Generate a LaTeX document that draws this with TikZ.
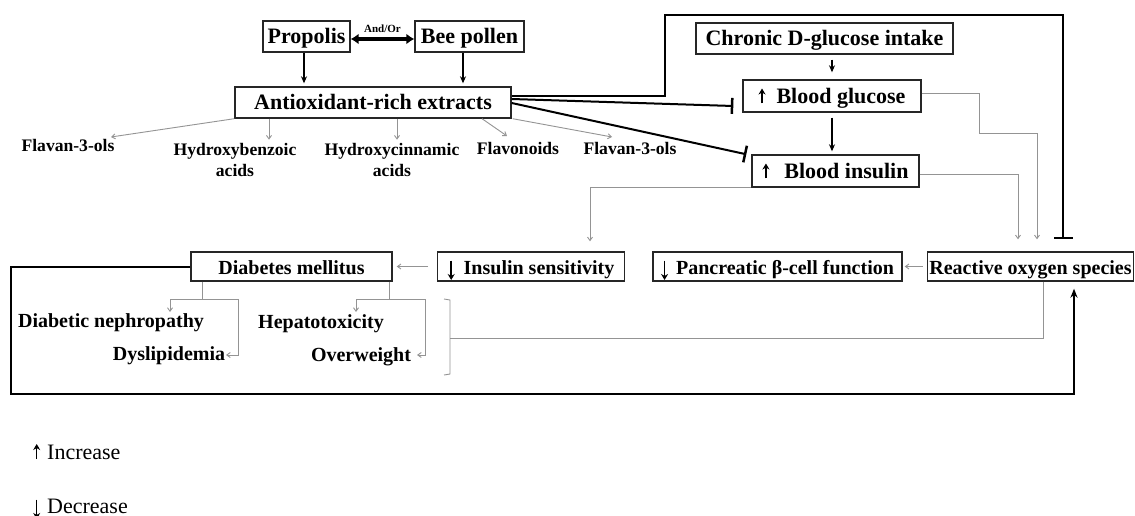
\documentclass[tikz,border=0pt]{standalone}
\usepackage{fontspec}
\setmainfont{Liberation Serif}
\usetikzlibrary{arrows.meta,calc}
\newcommand\UpA[1][1.8pt]{\tikz[baseline=0pt,x=1pt,y=1pt]\draw[line width=#1,-{Stealth[length=6pt,width=7pt]}] (0,0) -- (0,15);}
\newcommand\DnA[1][1.8pt]{\tikz[baseline=0pt,x=1pt,y=1pt]\draw[line width=#1,-{Stealth[length=6pt,width=7pt]}] (0,13.5) -- (0,-6);}
\begin{document}
\begin{tikzpicture}[x=1pt,y=-1pt,
  box/.style={draw=black!85,line width=1.4pt,inner sep=0pt,text height=17pt,text depth=2pt,minimum height=31pt,font=\bfseries\fontsize{22}{24}\selectfont},
  lowbox/.style={box,minimum height=29pt,font=\bfseries\fontsize{20}{22}\selectfont},
  sub/.style={inner sep=0pt,font=\bfseries\fontsize{17.6}{21}\selectfont,align=center},
  comp/.style={inner sep=0pt,font=\bfseries\fontsize{20}{22}\selectfont,anchor=base},
  blk/.style={line width=1.3pt,-{Stealth[length=7pt,width=6pt]}},
  thk/.style={line width=2pt},
  gry/.style={draw=black!42,line width=0.9pt},
  garr/.style={gry,-{Straight Barb[length=3.5pt,width=5pt]}},
  inh/.style={thk,-{Bar[width=#1,line width=2.5pt]}},
  inh/.default=18pt,
  leg/.style={inner sep=0pt,anchor=base west,font=\fontsize{22}{24}\selectfont},
]
\fill[white] (0,0) rectangle (1135,516);
\useasboundingbox (0,0) rectangle (1135,516);

% top boxes
\node[box,minimum width=87pt] (prop) at (306.5,36.5) {Propolis};
\node[box,minimum width=109pt] (bee) at (469.5,36.5) {Bee pollen};
\node[box,minimum width=276pt] (anti) at (373,102.5) {Antioxidant-rich extracts};
\node[box,minimum width=257pt] (chron) at (824.5,38.5) {Chronic D-glucose intake};
\node[box,minimum width=178pt,minimum height=32pt] (glu) at (832,96) {\UpA\hspace{11pt}Blood glucose};
\node[box,minimum width=167pt,minimum height=32pt] (ins) at (835.5,171) {\UpA\hspace{15pt}Blood insulin};

% bottom boxes
\node[lowbox,minimum width=201pt] (dm) at (291.5,266.5) {Diabetes mellitus};
\node[lowbox,minimum width=187.5pt] (isens) at (531,266.5) {\DnA\hspace{9pt}Insulin sensitivity};
\node[lowbox,minimum width=249pt] (panc) at (777.5,266.5) {\DnA\hspace{8pt}Pancreatic β-cell function};
\node[lowbox,minimum width=206pt] (ros) at (1030.5,266.5) {Reactive oxygen species};

% compound labels
\node[sub,anchor=base] (fl1) at (68,152) {Flavan-3-ols};
\node[sub] (hb) at (235,159.5) {Hydroxybenzoic\\acids};
\node[sub] (hc) at (392,159.5) {Hydroxycinnamic\\acids};
\node[sub,anchor=base] (fv) at (518,154) {Flavonoids};
\node[sub,anchor=base] (fl2) at (630,154) {Flavan-3-ols};

% complications
\node[comp] (dn) at (111,327) {Diabetic nephropathy};
\node[comp] (dy) at (169,360) {Dyslipidemia};
\node[comp] (hep) at (321,328) {Hepatotoxicity};
\node[comp] (ow) at (361,361) {Overweight};

% legend
\node[leg] (inc) at (33,459) {\UpA[1.5pt]\hspace{7pt}Increase};
\node[leg] (dec) at (33,513) {\DnA[1.5pt]\hspace{7pt}Decrease};

% and/or
\draw[line width=3.5pt,{Latex[length=8pt,width=11pt]}-{Latex[length=8pt,width=11pt]}]
  ([yshift=-2.5pt]prop.east) -- ([yshift=-2.5pt]bee.west)
  node[midway,above=5pt,inner sep=0pt,font=\bfseries\fontsize{11}{12}\selectfont] (ao) {And/Or};

% sources -> extracts
\draw[blk,shorten >=3pt] ([xshift=-2.5pt]prop.south) -- ([xshift=-2.5pt]prop.south |- anti.north);
\draw[blk,shorten >=3pt] ([xshift=-6.5pt]bee.south) -- ([xshift=-6.5pt]bee.south |- anti.north);

% extracts -> compounds
\coordinate (e1) at (111,137);
\coordinate (e4) at (507,136);
\coordinate (e5) at (612,137);
\draw[garr] (anti.south west) -- (e1);
\draw[garr] ([xshift=-104pt]anti.south) -- ++(0,21);
\draw[garr] ([xshift=24pt]anti.south) -- ++(0,21);
\draw[garr] ([xshift=109pt]anti.south) -- (e4);
\draw[garr] ([xshift=1pt]anti.south east) -- (e5);

% inhibitions
\coordinate (topL) at (665,15);
\draw[inh=19pt,shorten >=12pt] ([yshift=6.5pt]anti.east) -| (topL) -| ([xshift=32.5pt]ros.north);
\draw[inh=16pt] ([yshift=3.5pt]anti.east) -- ($(glu.west)+(-9,10)$);
\draw[inh=17pt] ([yshift=-0.5pt]anti.east) -- ($(ins.north west)+(-5,0)$);

% glucose chain
\draw[blk,shorten <=5pt,shorten >=7pt] (glu.north |- chron.south) -- (glu.north);
\draw[blk,line width=2pt,shorten <=5pt,shorten >=3pt] (glu.south) -- (glu.south |- ins.north);

% to ROS
\coordinate (gbend) at (979,133);
\draw[garr,shorten >=12pt] ([yshift=3pt]glu.east) -| (gbend) -| ([xshift=6.5pt]ros.north);
\draw[garr,shorten >=12pt] ([yshift=-3pt]ins.east) -| ([xshift=-12.5pt]ros.north);

% insulin -> sensitivity
\draw[garr,shorten >=10pt] (ins.south west) -| ([xshift=59pt]isens.north);

% bottom row
\draw[garr,shorten <=4pt,shorten >=2pt] (ros.west) -- (panc.east);
\draw[garr,shorten <=8.5pt,shorten >=4pt] (isens.west) -- (dm.east);

% loop back to ROS
\coordinate (loopc) at (11,394);
\draw[thk,-{Stealth[length=9pt,width=7pt]},shorten >=7pt] (dm.west) -| (loopc) -| ([xshift=43.5pt]ros.south);

% diabetes branches
\coordinate (bl) at (202,299);
\coordinate (br) at (389,299);
\draw[gry] ([xshift=-89.5pt]dm.south) -- (bl);
\draw[garr] (bl) -| (170,312);
\draw[garr] (bl) -| (238,355) -- (226,355);
\draw[gry] ([xshift=97.5pt]dm.south) -- (br);
\draw[garr] (br) -| (356,312);
\draw[garr] (br) -| (425,355) -- (417,355);

% bracket
\draw[gry] (444,299) -- (450,300) -- (450,374) -- (444,375);
\draw[gry] ([xshift=12.5pt]ros.south) |- (450,338);
\end{tikzpicture}
\end{document}
